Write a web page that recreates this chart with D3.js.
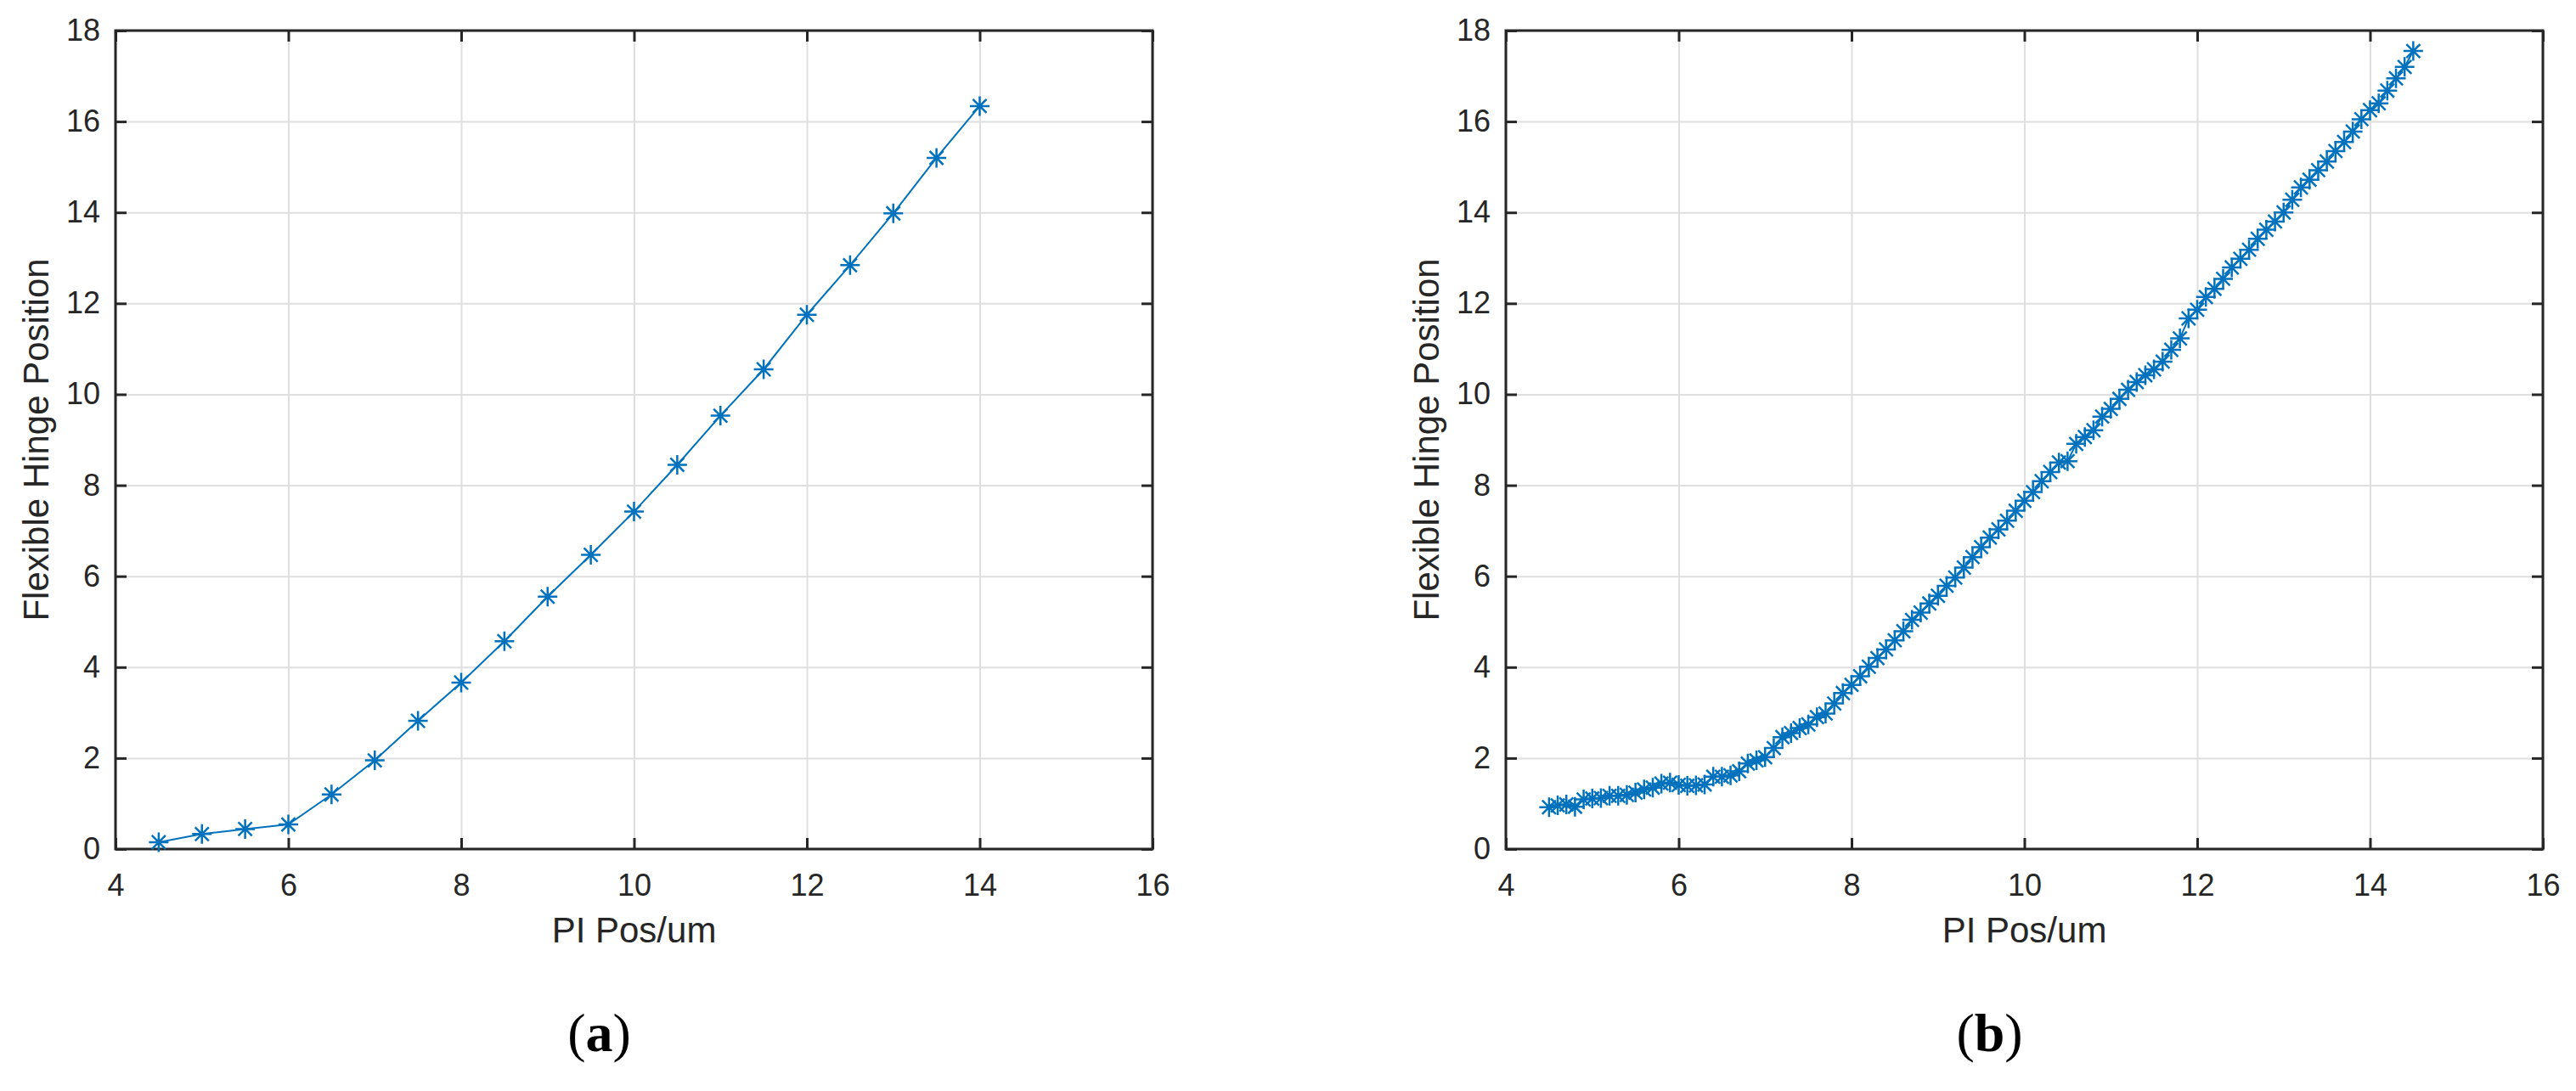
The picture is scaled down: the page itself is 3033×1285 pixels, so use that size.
<!DOCTYPE html>
<html>
<head>
<meta charset="utf-8">
<script src="https://cdn.jsdelivr.net/npm/d3@7"></script>
<style>
  body { margin: 0; background: #fff; }
  svg { display: block; }
  .tick text { font-family: "Liberation Sans", Arial, sans-serif; fill: #262626; }
  .grid line { stroke: #dfdfdf; stroke-width: 2; }
  .grid .domain { display: none; }
</style>
</head>
<body>
<svg id="fig" width="3033" height="1285"></svg>
<script>
// (a) step sweep, 0.5 um steps
const posA = [4.5, 5, 5.5, 6, 6.5, 7, 7.5, 8, 8.5, 9, 9.5, 10, 10.5, 11, 11.5, 12, 12.5, 13, 13.5, 14];
const hingeA = [0.15, 0.33, 0.44, 0.54, 1.2, 1.95, 2.82, 3.66, 4.57, 5.55, 6.47, 7.42, 8.45, 9.53, 10.55, 11.75, 12.84, 13.98, 15.2, 16.34];

// (b) fine sweep, 0.1 um steps
const posB = [
  4.5, 4.6, 4.7, 4.8, 4.9, 5.0, 5.1, 5.2, 5.3, 5.4, 5.5, 5.6, 5.7, 5.8, 5.9, 6.0,
  6.1, 6.2, 6.3, 6.4, 6.5, 6.6, 6.7, 6.8, 6.9, 7.0, 7.1, 7.2, 7.3, 7.4, 7.5,
  7.6, 7.7, 7.8, 7.9, 8.0, 8.1, 8.2, 8.3, 8.4, 8.5, 8.6, 8.7, 8.8, 8.9, 9.0,
  9.1, 9.2, 9.3, 9.4, 9.5, 9.6, 9.7, 9.8, 9.9, 10.0, 10.1, 10.2, 10.3, 10.4, 10.5,
  10.6, 10.7, 10.8, 10.9, 11.0, 11.1, 11.2, 11.3, 11.4, 11.5, 11.6, 11.7, 11.8, 11.9, 12.0,
  12.1, 12.2, 12.3, 12.4, 12.5, 12.6, 12.7, 12.8, 12.9, 13.0, 13.1, 13.2, 13.3, 13.4, 13.5,
  13.6, 13.7, 13.8, 13.9, 14.0, 14.1, 14.2, 14.3, 14.4, 14.5
];
const hingeB = [
  0.92, 0.96, 0.98, 0.93, 1.09, 1.11, 1.12, 1.17, 1.17, 1.19, 1.24, 1.31, 1.35, 1.44, 1.46, 1.41,
  1.39, 1.40, 1.42, 1.59, 1.59, 1.62, 1.71, 1.88, 1.95, 2.02, 2.22, 2.46, 2.55, 2.66, 2.74,
  2.90, 2.98, 3.20, 3.43, 3.61, 3.80, 4.01, 4.20, 4.39, 4.59, 4.79, 5.04, 5.20, 5.40, 5.57,
  5.79, 5.97, 6.19, 6.42, 6.64, 6.85, 7.03, 7.22, 7.44, 7.66, 7.85, 8.09, 8.29, 8.50, 8.53,
  8.91, 9.06, 9.21, 9.51, 9.68, 9.90, 10.10, 10.27, 10.42, 10.55, 10.72, 10.98, 11.23, 11.67, 11.86,
  12.14, 12.32, 12.54, 12.79, 12.98, 13.18, 13.42, 13.62, 13.80, 14.00, 14.28, 14.55, 14.72, 14.93, 15.12,
  15.35, 15.55, 15.78, 16.05, 16.25, 16.40, 16.68, 16.95, 17.20, 17.55
];

const xTicks = [4, 6, 8, 10, 12, 14, 16];
const yTicks = [0, 2, 4, 6, 8, 10, 12, 14, 16, 18];
const xLabel = "PI Pos/um";
const yLabel = "Flexible Hinge Position";

const blue = "#0072bd";
const ink = "#262626";

const svg = d3.select("#fig");

// MATLAB style '*' marker: plus plus a shorter x
function asterisk(r) {
  const d = r * 0.7;
  return `M${-r},0H${r}M0,${-r}V${r}M${-d},${-d}L${d},${d}M${-d},${d}L${d},${-d}`;
}

function drawPanel(left, xs, ys, panelTag) {
  const top = 36, width = 1221, height = 964;
  const g = svg.append("g").attr("transform", `translate(${left},${top})`);

  const x = d3.scaleLinear().domain([4, 16]).range([0, width]);
  const y = d3.scaleLinear().domain([0, 18]).range([height, 0]);

  // grid
  g.append("g").attr("class", "grid")
    .attr("transform", `translate(0,${height})`)
    .call(d3.axisBottom(x).tickValues(xTicks).tickSize(-height).tickFormat(""));
  g.append("g").attr("class", "grid")
    .call(d3.axisLeft(y).tickValues(yTicks).tickSize(-width).tickFormat(""));

  // axes, ticks point inwards
  const bottom = g.append("g").attr("transform", `translate(0,${height})`)
    .call(d3.axisBottom(x).tickValues(xTicks).tickSize(-13).tickPadding(29).tickFormat(d3.format("d")));
  const leftAx = g.append("g")
    .call(d3.axisLeft(y).tickValues(yTicks).tickSize(-13).tickPadding(18).tickFormat(d3.format("d")));
  const topAx = g.append("g")
    .call(d3.axisTop(x).tickValues(xTicks).tickSize(-13).tickFormat(""));
  const rightAx = g.append("g").attr("transform", `translate(${width},0)`)
    .call(d3.axisRight(y).tickValues(yTicks).tickSize(-13).tickFormat(""));

  [bottom, leftAx, topAx, rightAx].forEach((a) => {
    a.select(".domain").remove();
    a.selectAll(".tick line").attr("stroke", ink).attr("stroke-width", 3);
    a.selectAll(".tick text").attr("font-size", 36).attr("fill", ink);
  });

  g.append("rect")
    .attr("width", width).attr("height", height)
    .attr("fill", "none").attr("stroke", ink).attr("stroke-width", 3);

  const pts = xs.map((v, i) => [v, ys[i]]);

  const line = d3.line().x((d) => x(d[0])).y((d) => y(d[1]));
  g.append("path")
    .attr("d", line(pts))
    .attr("fill", "none")
    .attr("stroke", blue)
    .attr("stroke-width", 2);

  g.selectAll("path.mk").data(pts).enter()
    .append("path")
    .attr("class", "mk")
    .attr("transform", (d) => `translate(${x(d[0])},${y(d[1])})`)
    .attr("d", asterisk(11.5))
    .attr("fill", "none")
    .attr("stroke", blue)
    .attr("stroke-width", 2.5);

  // labels
  g.append("text")
    .attr("x", width / 2).attr("y", height + 110)
    .attr("text-anchor", "middle")
    .attr("font-family", "Liberation Sans, Arial, sans-serif")
    .attr("font-size", 42).attr("fill", ink)
    .text(xLabel);
  g.append("text")
    .attr("transform", `translate(${-79},${height / 2}) rotate(-90)`)
    .attr("text-anchor", "middle")
    .attr("font-family", "Liberation Sans, Arial, sans-serif")
    .attr("font-size", 42).attr("fill", ink)
    .text(yLabel);

  const cap = g.append("text")
    .attr("x", width / 2 - 41).attr("y", 1202)
    .attr("text-anchor", "middle")
    .attr("font-family", "Liberation Serif, Times New Roman, serif")
    .attr("font-size", 64).attr("fill", "#000");
  cap.append("tspan").text("(");
  cap.append("tspan").attr("font-weight", "bold").text(panelTag);
  cap.append("tspan").text(")");
}

drawPanel(136, posA, hingeA, "a");
drawPanel(1773, posB, hingeB, "b");
</script>
</body>
</html>
